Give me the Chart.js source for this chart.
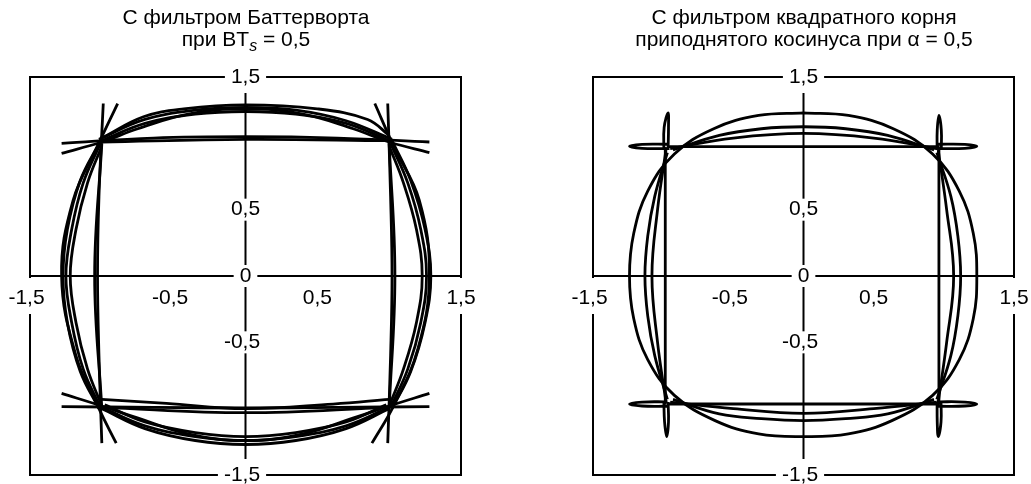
<!DOCTYPE html>
<html lang="ru">
<head>
<meta charset="utf-8">
<title>Векторные диаграммы</title>
<script src="https://cdn.jsdelivr.net/npm/chart.js@4/dist/chart.umd.min.js"></script>
<style>
  body { margin: 0; background: #fff; }
  #wrap { position: relative; width: 1031px; height: 484px; overflow: hidden; }
  canvas { position: absolute; top: 0; }
  .title {
    position: absolute; top: 6px; text-align: center;
    font-family: "Liberation Sans", Arial, sans-serif; font-size: 21px;
    line-height: 22px; color: #000;
  }
  .title sub { font-size: 16px; font-style: italic; line-height: 0; vertical-align: -5px; }
</style>
</head>
<body>
<div id="wrap">
  <canvas id="butterChart" width="515" height="484" style="left:0"></canvas>
  <canvas id="rrcChart" width="516" height="484" style="left:515px"></canvas>
  <div class="title" style="left:0;width:492px">С фильтром Баттерворта<br>при BT<sub>s</sub> = 0,5</div>
  <div class="title" style="left:584px;width:440px">С фильтром квадратного корня<br>приподнятого косинуса при α = 0,5</div>
</div>
<script>
/* ==========================================
   AXIS TICKS
========================================== */

const xTicks = [-1.5, -0.5, 0.5, 1.5];
const yTicks = [1.5, 0.5, 0, -0.5, -1.5];

/* ==========================================
   BUTTERWORTH TRAJECTORIES (I, Q)
========================================== */

const bwTopLine = [[-1.28, 1.0], [-0.64, 1.04], [0, 1.05], [0.64, 1.04], [1.28, 1.01]];
const bwTopLine2 = [[-1.0, 1.01], [0, 1.03], [1.0, 1.02]];
const bwTopArcOuter = [[-1.28, 0.925], [-1.0, 1.01], [-0.75, 1.11], [-0.4, 1.22], [0, 1.26], [0.4, 1.22], [0.75, 1.11], [1.0, 1.01], [1.28, 0.93]];
const bwTopArcA = [[-1.0, 1.04], [-0.71, 1.2], [-0.43, 1.26], [0, 1.29], [0.5, 1.26], [0.85, 1.18], [1.0, 1.06]];
const bwTopArcB = [[-1.0, 1.02], [-0.7, 1.15], [-0.35, 1.22], [0, 1.24], [0.35, 1.22], [0.7, 1.15], [1.0, 1.02]];
const bwTopArcC = [[-1.02, 1.03], [-0.7, 1.18], [-0.35, 1.25], [0, 1.27], [0.35, 1.25], [0.7, 1.17], [1.02, 1.03]];

const bwBotLine = [[-1.28, -0.985], [-0.64, -0.99], [0, -0.995], [0.64, -0.99], [1.28, -0.985]];
const bwBotLine2 = [[-1.0, -0.99], [0, -1.03], [1.0, -0.99]];
const bwBotArcOuter = [[-1.28, -0.885], [-1.0, -0.98], [-0.78, -1.06], [-0.4, -1.19], [0, -1.24], [0.4, -1.19], [0.78, -1.06], [1.0, -0.98], [1.28, -0.885]];
const bwBotArcA = [[-1.0, -1.0], [-0.7, -1.15], [-0.35, -1.24], [0, -1.27], [0.35, -1.24], [0.7, -1.15], [1.0, -1.0]];
const bwBotArcB = [[-0.98, -0.97], [-0.7, -1.1], [-0.35, -1.18], [0, -1.21], [0.35, -1.18], [0.7, -1.1], [0.98, -0.97]];
const bwBotArcC = [[-1.0, -0.99], [-0.7, -1.13], [-0.35, -1.21], [0, -1.24], [0.35, -1.21], [0.7, -1.13], [1.0, -0.99]];
const bwBotShallow = [[-1.0, -0.93], [-0.55, -0.96], [0, -1.0], [0.61, -0.965], [1.0, -0.93]];

const bwLeftLine = [[-0.99, 1.3], [-1.02, 0.6], [-1.03, 0], [-1.02, -0.6], [-1.0, -1.26]];
const bwLeftLine2 = [[-1.0, 1.0], [-1.05, 0], [-1.0, -1.0]];
const bwLeftArcOuter = [[-0.89, 1.3], [-1.03, 0.98], [-1.2, 0.57], [-1.28, 0], [-1.18, -0.6], [-1.02, -1.0], [-0.9, -1.26]];
const bwLeftArcA = [[-1.02, 1.0], [-1.15, 0.72], [-1.24, 0.35], [-1.27, 0], [-1.24, -0.35], [-1.15, -0.72], [-1.02, -1.0]];
const bwLeftArcB = [[-1.0, 0.98], [-1.1, 0.7], [-1.18, 0.35], [-1.22, 0], [-1.18, -0.35], [-1.1, -0.7], [-1.0, -0.98]];
const bwLeftArcC = [[-1.01, 1.0], [-1.13, 0.7], [-1.21, 0.35], [-1.25, 0], [-1.21, -0.35], [-1.13, -0.7], [-1.01, -0.99]];

const bwRightLine = [[0.99, 1.3], [1.01, 0.6], [1.02, 0], [1.01, -0.6], [0.99, -1.26]];
const bwRightLine2 = [[1.0, 1.0], [1.04, 0], [1.0, -1.0]];
const bwRightArcOuter = [[0.9, 1.3], [1.03, 0.98], [1.21, 0.57], [1.28, 0], [1.2, -0.55], [1.03, -0.98], [0.88, -1.26]];
const bwRightArcA = [[1.02, 1.02], [1.15, 0.72], [1.25, 0.35], [1.29, 0], [1.25, -0.35], [1.15, -0.72], [1.02, -1.0]];
const bwRightArcB = [[1.0, 0.98], [1.1, 0.7], [1.19, 0.35], [1.23, 0], [1.19, -0.35], [1.1, -0.7], [1.0, -0.98]];
const bwRightArcC = [[1.01, 1.0], [1.13, 0.7], [1.22, 0.35], [1.26, 0], [1.22, -0.35], [1.13, -0.7], [1.01, -0.99]];

/* ==========================================
   ROOT RAISED COSINE TRAJECTORIES (I, Q)
========================================== */

const rcOuter = [
  [0, 1.23], [0.32, 1.21], [0.64, 1.11], [0.92, 0.92], [1.11, 0.64], [1.21, 0.32],
  [1.235, 0], [1.21, -0.32], [1.11, -0.63], [0.92, -0.9], [0.63, -1.09], [0.32, -1.19],
  [0, -1.21], [-0.32, -1.19], [-0.63, -1.09], [-0.92, -0.9], [-1.11, -0.63], [-1.21, -0.32],
  [-1.24, 0], [-1.21, 0.32], [-1.11, 0.64], [-0.92, 0.92], [-0.64, 1.11], [-0.32, 1.21], [0, 1.23]
];

const rcTopLine = [[-0.97, 0.975], [0, 0.975], [0.97, 0.975]];
const rcBotLine = [[-0.97, -0.965], [0, -0.965], [0.97, -0.965]];
const rcLeftLine = [[-0.985, 0.97], [-0.985, 0], [-0.985, -0.97]];
const rcRightLine = [[0.965, 0.97], [0.965, 0], [0.965, -0.97]];

const rcLoopTL = [[-0.97, 0.993], [-1.15, 0.992], [-1.24, 0.978], [-1.15, 0.962], [-0.97, 0.96]];
const rcLoopTR = [[0.95, 0.993], [1.15, 0.992], [1.235, 0.978], [1.15, 0.962], [0.95, 0.96]];
const rcLoopBL = [[-0.97, -0.948], [-1.15, -0.95], [-1.24, -0.965], [-1.15, -0.98], [-0.97, -0.982]];
const rcLoopBR = [[0.95, -0.948], [1.15, -0.95], [1.235, -0.965], [1.15, -0.98], [0.95, -0.982]];

const rcSpikeLT = [[-0.995, 0.95], [-0.993, 1.12], [-0.965, 1.23], [-0.962, 1.12], [-0.965, 0.95]];
const rcSpikeLB = [[-0.995, -0.95], [-0.99, -1.1], [-0.975, -1.21], [-0.962, -1.1], [-0.965, -0.95]];
const rcSpikeRT = [[0.952, 0.95], [0.953, 1.1], [0.965, 1.21], [0.982, 1.1], [0.982, 0.95]];
const rcSpikeRB = [[0.952, -0.95], [0.953, -1.1], [0.96, -1.21], [0.98, -1.1], [0.98, -0.95]];

const rcTopArcA = [[-0.93, 0.95], [-0.6, 1.06], [-0.3, 1.11], [0, 1.125], [0.3, 1.11], [0.6, 1.06], [0.93, 0.95]];
const rcTopArcB = [[-0.95, 0.96], [-0.5, 1.04], [0, 1.075], [0.5, 1.04], [0.95, 0.96]];
const rcBotArcA = [[-0.93, -0.93], [-0.6, -1.04], [-0.3, -1.075], [0, -1.09], [0.3, -1.075], [0.6, -1.04], [0.93, -0.93]];
const rcBotArcB = [[-0.95, -0.95], [-0.5, -1.0], [0, -1.035], [0.5, -1.0], [0.95, -0.95]];
const rcLeftArcA = [[-0.97, 0.93], [-1.06, 0.6], [-1.11, 0.3], [-1.13, 0], [-1.11, -0.3], [-1.06, -0.6], [-0.97, -0.93]];
const rcLeftArcB = [[-0.98, 0.95], [-1.04, 0.5], [-1.08, 0], [-1.04, -0.5], [-0.98, -0.95]];
const rcRightArcA = [[0.95, 0.93], [1.05, 0.6], [1.1, 0.3], [1.12, 0], [1.1, -0.3], [1.05, -0.6], [0.95, -0.93]];
const rcRightArcB = [[0.96, 0.95], [1.02, 0.5], [1.07, 0], [1.02, -0.5], [0.96, -0.95]];

/* ==========================================
   HELPERS
========================================== */

const FONT = '"Liberation Sans", Arial, sans-serif';

function curve(points, width, tension) {
  return {
    data: points.map(([x, y]) => ({ x, y })),
    showLine: true,
    borderColor: "#000",
    borderWidth: width,
    tension: tension,
    pointRadius: 0,
    fill: false
  };
}

function tickText(v) {
  return String(v).replace(".", ",");
}

/* label whose digits are centred on (cx, cy), minus sign hangs left */
function drawLabel(ctx, text, cx, cy, padX, top, bottom) {
  const num = text.replace("-", "");
  const wNum = ctx.measureText(num).width;
  const wAll = ctx.measureText(text).width;
  const left = cx - wNum / 2 - (wAll - wNum);
  ctx.fillStyle = "#fff";
  ctx.fillRect(left - padX, top, wAll + padX * 2, bottom - top);
  ctx.fillStyle = "#000";
  ctx.fillText(text, left, cy);
}

/* ==========================================
   FRAME + CENTRED AXES PLUGIN
========================================== */

const frameAxes = {
  id: "frameAxes",

  beforeDatasetsDraw(chart) {
    const { ctx, chartArea: a, scales: { x, y } } = chart;
    const x0 = x.getPixelForValue(0);
    const y0 = y.getPixelForValue(0);
    ctx.save();
    ctx.strokeStyle = "#000";
    ctx.lineWidth = 2;
    ctx.strokeRect(a.left, a.top, a.right - a.left, a.bottom - a.top);
    ctx.beginPath();
    ctx.moveTo(a.left, y0);
    ctx.lineTo(a.right, y0);
    ctx.moveTo(x0, a.top);
    ctx.lineTo(x0, a.bottom);
    ctx.stroke();
    ctx.restore();
  },

  afterDatasetsDraw(chart) {
    const { ctx, scales: { x, y } } = chart;
    const x0 = x.getPixelForValue(0);
    const y0 = y.getPixelForValue(0);
    ctx.save();
    ctx.font = "21px " + FONT;
    ctx.textAlign = "left";
    ctx.textBaseline = "middle";

    xTicks.forEach((v) => {
      const cy = y0 + 22;
      drawLabel(ctx, tickText(v), x.getPixelForValue(v), cy, 4, y0 + 2, y0 + 38);
    });

    yTicks.forEach((v) => {
      const cy = y.getPixelForValue(v);
      const half = Math.abs(v) === 1.5 ? 16 : 11;
      drawLabel(ctx, tickText(v), x0, cy, 6, cy - half, cy + half);
    });

    ctx.restore();
  }
};

/* ==========================================
   CHART OPTIONS
========================================== */

function options(padding) {
  return {
    responsive: false,
    animation: false,
    events: [],
    layout: { padding: padding },
    scales: {
      x: { type: "linear", min: -1.5, max: 1.5, display: false },
      y: { type: "linear", min: -1.5, max: 1.5, display: false }
    },
    plugins: {
      legend: { display: false },
      tooltip: { enabled: false }
    }
  };
}

/* ==========================================
   BUTTERWORTH CHART
========================================== */

const bwCurves = [
  bwTopLine, bwTopLine2, bwTopArcOuter, bwTopArcA, bwTopArcB, bwTopArcC,
  bwBotLine, bwBotLine2, bwBotArcOuter, bwBotArcA, bwBotArcB, bwBotArcC, bwBotShallow,
  bwLeftLine, bwLeftLine2, bwLeftArcOuter, bwLeftArcA, bwLeftArcB, bwLeftArcC,
  bwRightLine, bwRightLine2, bwRightArcOuter, bwRightArcA, bwRightArcB, bwRightArcC
];

new Chart(document.getElementById("butterChart"), {
  type: "scatter",
  data: { datasets: bwCurves.map((c) => curve(c, 2.8, 0.4)) },
  options: options({ left: 30, right: 54, top: 77, bottom: 9 }),
  plugins: [frameAxes]
});

/* ==========================================
   ROOT RAISED COSINE CHART
========================================== */

const rcStraight = [rcTopLine, rcBotLine, rcLeftLine, rcRightLine];
const rcCurved = [
  rcOuter,
  rcLoopTL, rcLoopTR, rcLoopBL, rcLoopBR,
  rcSpikeLT, rcSpikeLB, rcSpikeRT, rcSpikeRB,
  rcTopArcA, rcTopArcB, rcBotArcA, rcBotArcB,
  rcLeftArcA, rcLeftArcB, rcRightArcA, rcRightArcB
];

new Chart(document.getElementById("rrcChart"), {
  type: "scatter",
  data: {
    datasets: rcStraight.map((c) => curve(c, 2.8, 0))
      .concat(rcCurved.map((c) => curve(c, 2.8, 0.4)))
  },
  options: options({ left: 78, right: 17, top: 77, bottom: 9 }),
  plugins: [frameAxes]
});
</script>
</body>
</html>
